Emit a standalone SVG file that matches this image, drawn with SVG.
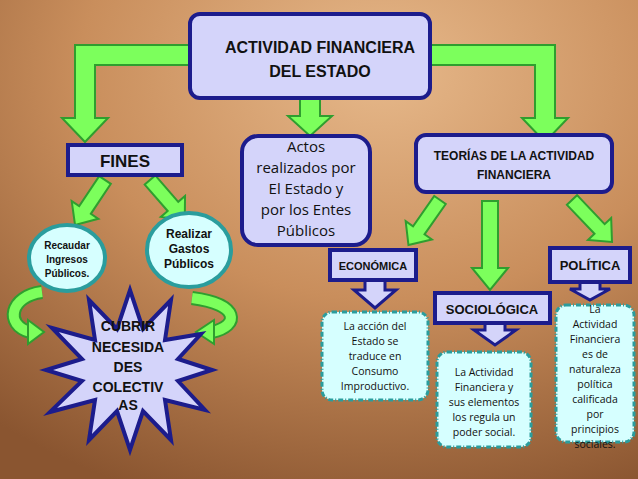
<svg xmlns="http://www.w3.org/2000/svg" width="638" height="479" viewBox="0 0 638 479">
<defs>
<radialGradient id="bg" cx="0.6" cy="0.15" r="0.95">
<stop offset="0" stop-color="#e6b88a"/><stop offset="0.5" stop-color="#c98e5c"/><stop offset="1" stop-color="#8a5530"/>
</radialGradient>
<polygon id="ga" points="-7,0 7,0 7,-18 16,-18 0,0 -16,-18 -7,-18"/>
</defs>
<style>
.bx{fill:#d4d4fa;stroke:#1c1c8c;stroke-width:4}
.el{fill:#d6ffff;stroke:#2a9d9d;stroke-width:4}
.tx{fill:#d6ffff;stroke:#2a9d9d;stroke-width:3;stroke-dasharray:5 2 1 2}
.gr{fill:#7cff5c;stroke:#2f9e2f;stroke-width:2}
.da{fill:#d4d4fa;stroke:#1c1c8c;stroke-width:3}
.b{font-family:"Liberation Sans",Arial,sans-serif;font-weight:bold;fill:#111;text-anchor:middle}
.n{font-family:"Open Sans","Liberation Sans",sans-serif;fill:#111;text-anchor:middle}
</style>
<rect width="638" height="479" fill="url(#bg)"/>
<g id="connectors">
<polygon class="gr" points="190,45 75,45 75,118 62,118 85,142 108,118 95,118 95,65 190,65"/>
<polygon class="gr" points="430,45 555,45 555,118 568,118 545,142 522,118 535,118 535,65 430,65"/>
<polygon class="gr" points="300,98 320,98 320,116 332,116 310,136 288,116 300,116"/>
<g transform="translate(105,180) rotate(33.7)"><polygon class="gr" points="-7,0 7,0 7,36 16,36 0,54 -16,36 -7,36"/></g>
<g transform="translate(150,180) rotate(-41)"><polygon class="gr" points="-7,0 7,0 7,35 16,35 0,53 -16,35 -7,35"/></g>
<g transform="translate(440,200) rotate(35)"><polygon class="gr" points="-7,0 7,0 7,37 16,37 0,55 -16,37 -7,37"/></g>
<g transform="translate(572,200) rotate(-43.6)"><polygon class="gr" points="-7,0 7,0 7,40 16,40 0,58 -16,40 -7,40"/></g>
<polygon class="gr" points="482,201 498,201 498,268 508,268 490,290 472,268 482,268"/>
<path d="M42,292 C10,296 4,325 30,332" fill="none" stroke="#2f9e2f" stroke-width="14"/>
<path d="M42,292 C10,296 4,325 30,332" fill="none" stroke="#7cff5c" stroke-width="10"/>
<polygon class="gr" points="28,320 44,332 28,344"/>
<path d="M192,298 C240,304 240,326 212,332" fill="none" stroke="#2f9e2f" stroke-width="14"/>
<path d="M192,298 C240,304 240,326 212,332" fill="none" stroke="#7cff5c" stroke-width="10"/>
<polygon class="gr" points="214,320 196,332 214,344"/>
<polygon class="da" points="365,280 385,280 385,290 396,290 375,308 354,290 365,290"/>
<polygon class="da" points="485,323 505,323 505,330 516,330 495,345 474,330 485,330"/>
<polygon class="da" points="580,282 600,282 600,289 610,289 590,300 570,289 580,289"/>
</g>
<g id="top"><rect class="bx" x="190" y="14" width="240" height="84" rx="10"/>
<text class="b" x="320" y="53" font-size="16">ACTIVIDAD FINANCIERA</text><text class="b" x="320" y="77" font-size="16">DEL ESTADO</text></g>
<g id="fines"><rect class="bx" x="68" y="145" width="114" height="30"/><text class="b" x="125" y="167" font-size="17">FINES</text></g>
<g id="actos"><rect class="bx" x="242" y="136" width="128" height="109" rx="16"/>
<g class="n" font-size="15"><text x="306" y="152">Actos</text><text x="306" y="173">realizados por</text><text x="306" y="194">El Estado y</text><text x="306" y="215">por los Entes</text><text x="306" y="236">Públicos</text></g></g>
<g id="teorias"><rect class="bx" x="416" y="135" width="196" height="57" rx="10"/>
<text class="b" x="514" y="160" font-size="12">TEORÍAS DE LA ACTIVIDAD</text><text class="b" x="514" y="179" font-size="12">FINANCIERA</text></g>
<g id="recaudar"><ellipse class="el" cx="67" cy="258" rx="38" ry="33"/>
<g class="b" font-size="10"><text x="67" y="249">Recaudar</text><text x="67" y="263">Ingresos</text><text x="67" y="277">Públicos.</text></g></g>
<g id="realizar"><ellipse class="el" cx="189" cy="250" rx="42" ry="37"/>
<g class="b" font-size="12"><text x="189" y="238">Realizar</text><text x="189" y="253">Gastos</text><text x="189" y="268">Públicos</text></g></g>
<g id="cubrir"><polygon fill="#d4d4fa" stroke="#1c1c8c" stroke-width="4" points="212,370 178,359 201,334 165,340 171,300 143,329 130,290 117,329 89,300 95,340 52,328 82,359 46,370 82,381 50,412 95,400 89,440 117,411 130,450 143,411 171,440 165,400 205,410 178,381"/>
<g class="b" font-size="14"><text x="128" y="331">CUBRIR</text><text x="128" y="352">NECESIDA</text><text x="128" y="372">DES</text><text x="128" y="392">COLECTIV</text><text x="128" y="410">AS</text></g></g>
<g id="economica"><rect class="bx" x="330" y="250" width="86" height="30"/><text class="b" x="373" y="270" font-size="11">ECONÓMICA</text></g>
<g id="sociologica"><rect class="bx" x="435" y="293" width="115" height="30"/><text class="b" x="492" y="314" font-size="13">SOCIOLÓGICA</text></g>
<g id="politica"><rect class="bx" x="550" y="248" width="80" height="34"/><text class="b" x="590" y="270" font-size="13">POLÍTICA</text></g>
<g id="t-econ"><rect class="tx" x="322" y="312" width="106" height="88" rx="10"/>
<g class="n" font-size="10.5"><text x="375" y="330">La acción del</text><text x="375" y="345">Estado se</text><text x="375" y="360">traduce en</text><text x="375" y="375">Consumo</text><text x="375" y="390">Improductivo.</text></g></g>
<g id="t-soc"><rect class="tx" x="437" y="352" width="94" height="95" rx="10"/>
<g class="n" font-size="10.5"><text x="484" y="376">La Actividad</text><text x="484" y="391">Financiera y</text><text x="484" y="406">sus elementos</text><text x="484" y="421">los regula un</text><text x="484" y="436">poder social.</text></g></g>
<g id="t-pol"><rect class="tx" x="556" y="305" width="78" height="137" rx="10"/>
<g class="n" font-size="10.5"><text x="595" y="313">La</text><text x="595" y="328">Actividad</text><text x="595" y="343">Financiera</text><text x="595" y="358">es de</text><text x="595" y="373">naturaleza</text><text x="595" y="388">política</text><text x="595" y="403">calificada</text><text x="595" y="418">por</text><text x="595" y="433">principios</text><text x="595" y="448">sociales.</text></g></g>
</svg>
